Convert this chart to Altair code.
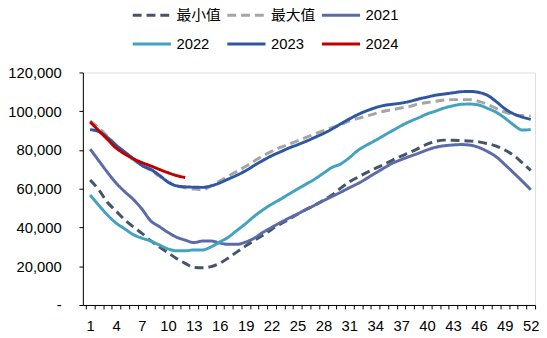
import altair as alt
import pandas as pd

weeks = list(range(1, 53))

min_vals = [64500, 59500, 53000, 48500, 44000, 40300, 37000, 33200, 30000, 27000,
            24000, 21500, 19400, 19200, 19800, 21500, 24300, 27400, 30500, 33300,
            36000, 39000, 41700, 44200, 46800, 49300, 51500, 54000, 56800, 60300,
            63500, 66000, 68300, 70500, 72500, 74800, 76800, 78700, 80800, 83000,
            84500, 85100, 85000, 84800, 84600, 84200, 83300, 82000, 80000, 77300,
            73500, 69500]
max_vals = [95000, 91500, 87000, 82500, 78500, 75000, 72000, 69500, 66500, 63500,
            61500, 60500, 59800, 59500, 61500, 64000, 66500, 69000, 71500, 74300,
            77000, 79300, 81300, 83000, 84700, 86500, 88300, 90000, 91500, 93000,
            95000, 96300, 97500, 98800, 100000, 100800, 101700, 102500, 103700, 104500,
            105100, 105800, 106000, 106000, 106000, 105100, 103500, 101500, 99500, 98300,
            97800, 97500]
y2021 = [80500, 74500, 68500, 63000, 58500, 54500, 49500, 43500, 40500, 37500,
         35000, 33500, 32200, 33000, 33000, 32000, 31300, 31300, 32500, 34500,
         37500, 40000, 42500, 44800, 47000, 49300, 51500, 53800, 56000, 58200,
         60500, 62700, 65300, 68000, 70700, 73200, 75000, 76700, 78300, 80000,
         81400, 82200, 82600, 82800, 82500, 81300, 79200, 76500, 72500, 68300,
         64000, 59500]
y2022 = [56800, 51500, 46500, 42300, 39300, 36300, 34500, 33000, 31000, 29000,
         28000, 28000, 28400, 28400, 30000, 32500, 35000, 38500, 42000, 45800,
         49100, 52000, 54500, 57200, 59800, 62400, 65000, 68000, 71000, 72800,
         76000, 79800, 82500, 84900, 87500, 90000, 92500, 94700, 96600, 98600,
         100100, 101700, 102800, 103600, 103700, 103200, 101500, 99500, 96500, 93000,
         90300, 90500]
y2023 = [90500, 89500, 86500, 82500, 79000, 75500, 72000, 70000, 67000, 63500,
         61500, 61000, 60800, 60700, 61500, 63000, 65000, 67000, 69300, 72000,
         74600, 77000, 79000, 81000, 82700, 84500, 86500, 88500, 90800, 93500,
         96000, 98300, 100200, 101800, 103000, 103600, 104200, 105100, 106300, 107300,
         108300, 108900, 109500, 110100, 110200, 109700, 108200, 105000, 101300, 98700,
         97000, 95800]
y2024 = [94500, 90000, 85500, 81000, 78000, 75500, 73500, 71800, 70000, 68300,
         66800, 65800]

series_names = ["最小值", "最大值", "2021", "2022", "2023", "2024"]
series_values = [min_vals, max_vals, y2021, y2022, y2023, y2024]
colors = ["#44546A", "#A5A5A5", "#5B6BA8", "#43A2C0", "#2E56A2", "#C00000"]
dashes = [[9, 5], [9, 5], [1, 0], [1, 0], [1, 0], [1, 0]]
widths = [3, 3, 3, 3, 4, 3.5]

rows = []
for name, vals in zip(series_names, series_values):
    for w, v in zip(weeks, vals):
        rows.append({"week": w, "value": v, "series": name})
df = pd.DataFrame(rows)

x_tick_values = [w - 0.5 for w in range(1, 54)]
y_tick_values = list(range(0, 120001, 20000))

FONT = "Liberation Sans, Arial, Noto Sans CJK SC"

legend_kw = dict(
    title=None, orient="none", legendX=49, legendY=-79, columns=3,
    direction="horizontal", symbolType="stroke", symbolSize=1500,
    symbolStrokeWidth=3.5, labelFont=FONT, labelFontSize=15, labelColor="#000000",
    labelOffset=4, columnPadding=-1, rowPadding=-16, padding=0, labelLimit=200,
)

chart = alt.Chart(df).mark_line(interpolate="monotone").encode(
    x=alt.X("week:Q",
            scale=alt.Scale(domain=[0.16, 52.5], nice=False, zero=False),
            axis=alt.Axis(values=x_tick_values, title=None, grid=False,
                          labelExpr="((datum.value - 0.5) % 3 == 0 && datum.value < 52) ? format(datum.value + 0.5, 'd') : ''",
                          labelOffset=4.4, labelOverlap=False, labelFlush=False,
                          tickSize=4, tickColor="#000000", domainColor="#000000",
                          labelFont=FONT, labelFontSize=15, labelColor="#000000",
                          labelPadding=10)),
    y=alt.Y("value:Q",
            scale=alt.Scale(domain=[0, 120000], nice=False),
            axis=alt.Axis(values=y_tick_values, title=None, grid=False,
                          labelExpr="datum.value == 0 ? '-\u00a0\u00a0\u00a0' : format(datum.value, ',')",
                          tickSize=4, tickColor="#000000", domainColor="#000000",
                          labelFont=FONT, labelFontSize=15, labelColor="#000000",
                          labelPadding=18)),
    color=alt.Color("series:N", sort=series_names,
                    scale=alt.Scale(domain=series_names, range=colors),
                    legend=alt.Legend(**legend_kw)),
    strokeDash=alt.StrokeDash("series:N", sort=series_names,
                              scale=alt.Scale(domain=series_names, range=dashes),
                              legend=alt.Legend(**legend_kw)),
    strokeWidth=alt.StrokeWidth("series:N", sort=series_names,
                                scale=alt.Scale(domain=series_names, range=widths),
                                legend=None),
).properties(
    width=459, height=236,
    padding={"left": 76, "top": 63, "right": 4, "bottom": 28},
    autosize=alt.AutoSizeParams(type="none"),
).configure_view(stroke=None).configure(background="white")

chart.save("out.html", embed_options={"renderer": "svg", "actions": False})
